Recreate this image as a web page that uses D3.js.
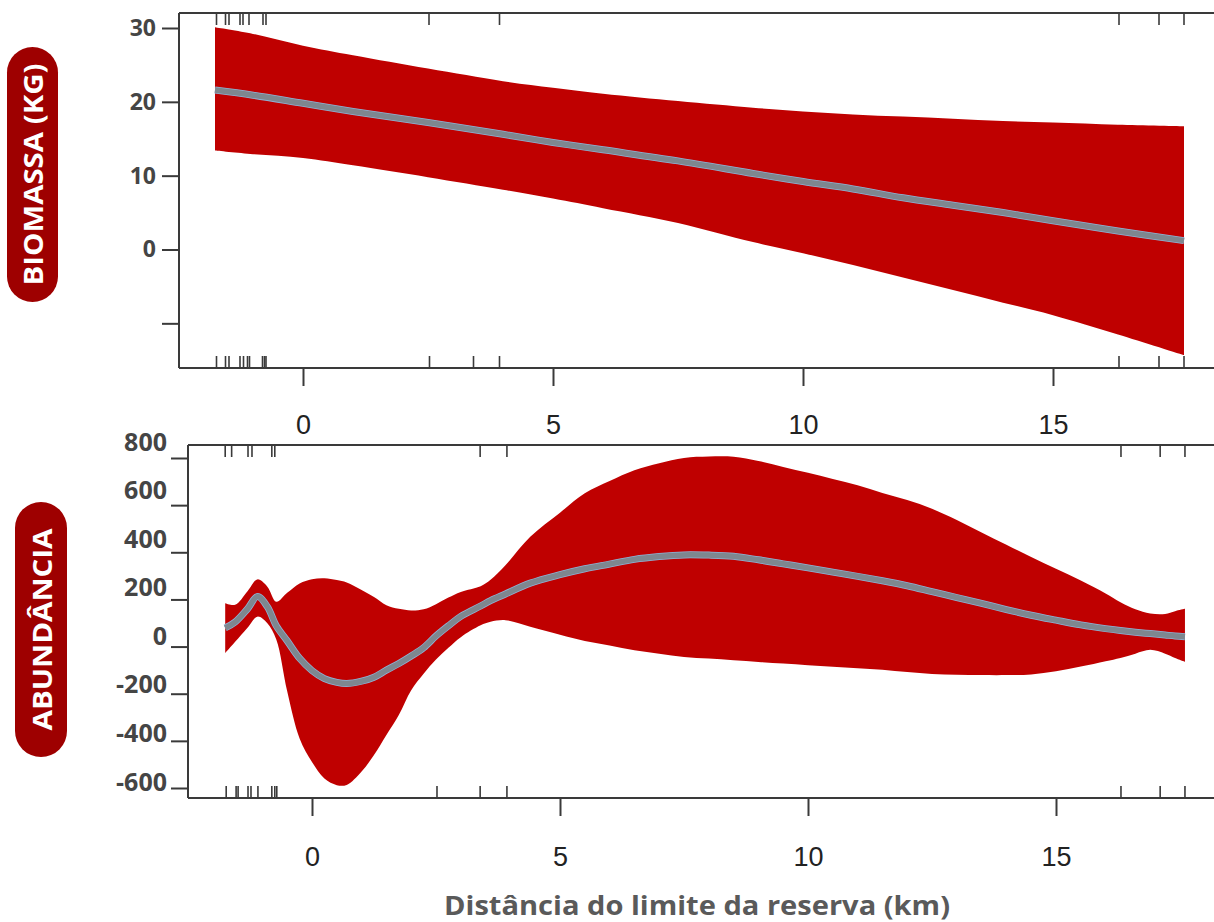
<!DOCTYPE html>
<html><head><meta charset="utf-8">
<script src="https://cdn.jsdelivr.net/npm/d3@7"></script>
<style>body{margin:0;background:#fff}</style>
</head><body>
<svg id="chart" width="1214" height="922"></svg>
<script>
// ---------- DATA ----------
// Top panel: Biomassa (kg)
const biomX     = [-1.76, -1, 0, 1, 2.5, 4, 5, 6, 7.5, 9, 10, 11, 12, 13, 14, 15, 16.3, 17.62];
const biomUpper = [30.1, 29.2, 27.6, 26.3, 24.5, 22.8, 21.9, 21.1, 20.1, 19.2, 18.7, 18.3, 18.0, 17.7, 17.4, 17.2, 16.9, 16.7];
const biomMean  = [21.6, 20.9, 19.8, 18.7, 17.2, 15.6, 14.5, 13.5, 12.0, 10.3, 9.2, 8.2, 7.0, 6.0, 5.0, 3.9, 2.5, 1.2];
const biomLower = [13.4, 12.9, 12.4, 11.4, 9.8, 8.1, 6.9, 5.6, 3.6, 1.0, -0.5, -2.1, -3.8, -5.5, -7.2, -8.9, -11.5, -14.3];
const biomRugTop    = [-1.73, -1.55, -1.48, -1.26, -1.2, -1.08, -0.8, -0.74, 2.52, 3.93, 16.32, 17.12, 17.62];
const biomRugBottom = [-1.73, -1.55, -1.48, -1.26, -1.19, -1.11, -1.07, -0.81, -0.77, -0.74, 2.53, 3.41, 3.93, 16.32, 17.12, 17.62];
const biomYTicks      = [30, 20, 10, 0, -10];
const biomYTickLabels = ["30", "20", "10", "0", ""];

// Bottom panel: Abundância
const abunX = [-1.75, -1.55, -1.3, -1.1, -0.9, -0.72, -0.5, -0.25, 0, 0.25, 0.5, 0.7, 1.0, 1.25, 1.5, 1.75, 2.0, 2.25, 2.5, 2.75, 3.0, 3.4, 3.6, 3.9, 4.4, 5.0, 5.5, 6.0, 6.5, 7.0, 7.5, 8.0, 8.5, 9.0, 9.5, 10, 10.5, 11, 11.5, 12, 12.5, 13, 13.5, 14, 14.5, 15, 15.5, 16, 16.3, 16.6, 16.9, 17.2, 17.4, 17.6];
const abunUpper = [184, 177, 235, 285, 254, 190, 228, 268, 286, 290, 282, 272, 240, 210, 175, 160, 153, 158, 180, 208, 232, 256, 283, 345, 466, 568, 650, 702, 748, 778, 800, 806, 805, 787, 762, 737, 711, 684, 652, 622, 585, 537, 484, 432, 380, 330, 280, 225, 188, 158, 140, 138, 150, 160];
const abunMean  = [79, 104, 160, 212, 169, 88, 24, -50, -102, -136, -152, -157, -147, -130, -100, -72, -40, -5, 45, 88, 128, 172, 195, 223, 269, 305, 330, 350, 370, 382, 389, 388, 383, 368, 351, 334, 316, 298, 279, 258, 233, 208, 183, 157, 133, 112, 92, 76, 68, 61, 55, 49, 45, 42];
const abunLower = [-28, 20, 80, 127, 99, 30, -190, -390, -490, -560, -588, -587, -530, -460, -375, -290, -185, -115, -55, -5, 40, 90, 105, 112, 84, 50, 24, 5, -16, -30, -44, -51, -58, -65, -72, -79, -86, -92, -98, -108, -116, -120, -121, -121, -118, -105, -85, -62, -48, -30, -14, -30, -48, -64];
const abunRugTop    = [-1.75, -1.62, -1.29, -1.21, -0.81, -0.75, 3.39, 3.93, 16.31, 17.1, 17.6];
const abunRugBottom = [-1.73, -1.53, -1.49, -1.29, -1.23, -1.09, -0.81, -0.75, -0.71, 2.52, 3.39, 3.93, 16.31, 17.10, 17.60];
const abunYTicks      = [800, 600, 400, 200, 0, -200, -400, -600];
const abunYTickLabels = ["800", "600", "400", "200", "0", "-200", "-400", "-600"];

const xTicks      = [0, 5, 10, 15];
const xTickLabels = ["0", "5", "10", "15"];

const yTitleTop    = "BIOMASSA (KG)";
const yTitleBottom = "ABUNDÂNCIA";
const xTitle       = "Distância do limite da reserva (km)";

// ---------- DRAW ----------
const svg = d3.select("#chart");
const RED = "#bf0000", PILL = "#9e0000", LINE = "#7e878f", AX = "#3a3a3a";
const CURVE = d3.curveCatmullRom.alpha(0.5);

function drawPanel(p) {
  const g = svg.append("g");
  const x = d3.scaleLinear().domain([0, 15]).range(p.xRange);
  const y = d3.scaleLinear().domain(p.yDomain).range(p.yRange);
  const pts = p.xs.map((d, i) => ({x: d, u: p.upper[i], m: p.mean[i], l: p.lower[i]}));

  g.append("path").datum(pts)
    .attr("fill", RED)
    .attr("d", d3.area().curve(CURVE)
      .x(d => x(d.x)).y0(d => y(d.l)).y1(d => y(d.u)));

  const meanLine = d3.line().curve(CURVE).x(d => x(d.x)).y(d => y(d.m));
  g.append("path").datum(pts)
    .attr("fill", "none").attr("stroke", "#8fb3d6").attr("stroke-width", 7)
    .attr("stroke-linejoin", "round").attr("d", meanLine);
  g.append("path").datum(pts)
    .attr("fill", "none").attr("stroke", LINE).attr("stroke-width", 5.5)
    .attr("stroke-linejoin", "round").attr("d", meanLine);

  // frame (left, top, bottom)
  const fr = g.append("g").attr("stroke", AX).attr("stroke-width", 2).attr("fill", "none");
  fr.append("line").attr("x1", p.left).attr("x2", p.left).attr("y1", p.top).attr("y2", p.bottom);
  fr.append("line").attr("x1", p.left).attr("x2", 1214).attr("y1", p.top).attr("y2", p.top);
  fr.append("line").attr("x1", p.left).attr("x2", 1214).attr("y1", p.bottom).attr("y2", p.bottom);

  // rugs
  g.append("g").selectAll("line").data(p.rugBottom).join("line")
    .attr("x1", d => x(d)).attr("x2", d => x(d))
    .attr("y1", p.bottom).attr("y2", p.bottom - 12)
    .attr("stroke", AX).attr("stroke-width", 1.6);
  g.append("g").selectAll("line").data(p.rugTop).join("line")
    .attr("x1", d => x(d)).attr("x2", d => x(d))
    .attr("y1", p.top).attr("y2", p.top + 12)
    .attr("stroke", AX).attr("stroke-width", 1.6);

  // x axis
  const xa = g.append("g").attr("transform", `translate(0,${p.bottom})`)
    .call(d3.axisBottom(x).tickValues(xTicks).tickFormat((d, i) => xTickLabels[i]).tickSize(18).tickSizeOuter(0));
  xa.select(".domain").remove();
  xa.selectAll(".tick line").attr("stroke", AX).attr("stroke-width", 2);
  xa.selectAll(".tick text").attr("y", p.xLabelOffset).attr("dy", "0.35em")
    .attr("font-family", "Liberation Sans, Arial, sans-serif").attr("font-size", 27).attr("fill", "#222");

  // y axis
  const ya = g.append("g").attr("transform", `translate(${p.left},0)`)
    .call(d3.axisLeft(y).tickValues(p.yTicks).tickFormat((d, i) => p.yLabels[i]).tickSize(17).tickPadding(6).tickSizeOuter(0));
  ya.select(".domain").remove();
  ya.selectAll(".tick line").attr("stroke", AX).attr("stroke-width", 2);
  ya.selectAll(".tick text")
    .attr("font-family", "Open Sans, sans-serif").attr("font-weight", 700)
    .attr("font-size", p.yFont).attr("fill", "#454545");
  if (p.labelScale) {
    ya.selectAll(".tick text").attr("y", d => p.labelScale(d) - y(d)).attr("x", -21);
  }

  // pill title
  svg.append("rect").attr("x", p.pill[0]).attr("y", p.pill[1]).attr("width", p.pill[2]).attr("height", p.pill[3])
    .attr("rx", p.pill[2] / 2).attr("fill", PILL);
  svg.append("text")
    .attr("transform", `translate(${p.pill[0] + p.pill[2] / 2 + 1},${p.pill[1] + p.pill[3] / 2}) rotate(-90)`)
    .attr("text-anchor", "middle").attr("dy", "0.36em")
    .attr("font-family", "Open Sans, sans-serif").attr("font-weight", 700).attr("font-size", 27)
    .attr("fill", "#fff").attr("textLength", p.titleLen).attr("lengthAdjust", "spacingAndGlyphs")
    .text(p.title);
}

drawPanel({
  xs: biomX, upper: biomUpper, mean: biomMean, lower: biomLower,
  rugTop: biomRugTop, rugBottom: biomRugBottom,
  xRange: [303, 1053], yDomain: [0, 30], yRange: [249.5, 28],
  left: 179, top: 13, bottom: 368, xLabelOffset: 57,
  yTicks: biomYTicks, yLabels: biomYTickLabels, yFont: 23,
  pill: [7, 47, 51, 255], title: yTitleTop, titleLen: 222
});

drawPanel({
  xs: abunX, upper: abunUpper, mean: abunMean, lower: abunLower,
  rugTop: abunRugTop, rugBottom: abunRugBottom,
  xRange: [312, 1056], yDomain: [-600, 800], yRange: [788, 458],
  left: 188, top: 445, bottom: 798, xLabelOffset: 59,
  yTicks: abunYTicks, yLabels: abunYTickLabels, yFont: 25,
  labelScale: d3.scaleLinear().domain([800, -600]).range([442, 782]),
  pill: [15, 502, 52, 255], title: yTitleBottom, titleLen: 202
});

svg.append("text").attr("x", 697).attr("y", 905).attr("dy", "0.36em")
  .attr("text-anchor", "middle")
  .attr("font-family", "Open Sans, sans-serif").attr("font-weight", 700).attr("font-size", 27)
  .attr("fill", "#5a5a5a").attr("textLength", 506).attr("lengthAdjust", "spacingAndGlyphs")
  .text(xTitle);
</script>
</body></html>
